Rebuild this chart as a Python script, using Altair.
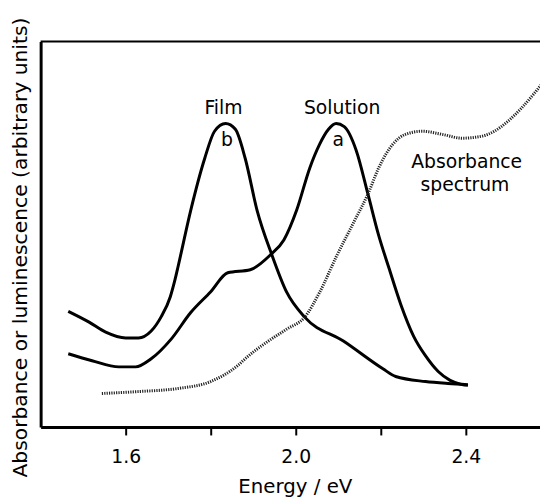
import altair as alt
import pandas as pd

# Film luminescence (curve b)
film_e = [1.465, 1.514, 1.553, 1.600, 1.630, 1.660, 1.684, 1.705, 1.716, 1.723, 1.753, 1.786,
          1.809, 1.835, 1.858, 1.881, 1.909, 1.944, 1.979, 2.021, 2.112, 2.205, 2.235, 2.305,
          2.358, 2.405]
film_v = [30.0, 27.2, 24.6, 23.1, 23.1, 24.9, 28.7, 33.8, 38.2, 41.5, 56.2, 69.7,
          76.7, 78.7, 77.2, 69.7, 56.2, 44.6, 34.9, 28.5, 22.3, 15.1, 13.1, 11.8,
          11.3, 11.0]

# Solution luminescence (curve a)
sol_e = [1.465, 1.521, 1.584, 1.623, 1.660, 1.707, 1.753, 1.800, 1.840, 1.893, 1.940, 1.972,
         2.002, 2.033, 2.056, 2.077, 2.095, 2.114, 2.142, 2.170, 2.195, 2.219, 2.247, 2.277,
         2.305, 2.335, 2.363, 2.391, 2.405]
sol_v = [19.0, 17.2, 15.6, 15.6, 17.7, 22.8, 29.7, 35.1, 40.0, 40.8, 44.6, 48.5,
         56.2, 67.2, 73.3, 77.2, 78.7, 77.9, 71.8, 60.3, 49.7, 41.3, 31.8, 23.6,
         18.5, 14.4, 12.1, 11.0, 10.8]

# Absorbance spectrum (dotted)
abs_e = [1.544, 1.630, 1.723, 1.800, 1.863, 1.886, 1.933, 1.979, 2.021, 2.056, 2.095, 2.135,
         2.170, 2.195, 2.228, 2.258, 2.298, 2.344, 2.391, 2.437, 2.467, 2.498, 2.530, 2.560,
         2.579]
abs_v = [8.7, 9.2, 10.0, 11.8, 15.9, 18.2, 22.1, 25.4, 28.5, 34.9, 44.1, 52.8,
         60.5, 67.2, 73.3, 75.9, 76.7, 75.9, 74.9, 75.4, 76.7, 79.2, 82.6, 86.4,
         89.0]

# Text annotations
lab_text = ["Film", "Solution", "b", "a", "Absorbance", "spectrum"]
lab_e = [1.830, 2.109, 1.838, 2.100, 2.402, 2.398]
lab_v = [81.3, 81.3, 72.8, 72.8, 67.2, 61.3]

tick_vals = [1.6, 1.8, 2.0, 2.2, 2.4]

W, H = 505, 390
FONT = "DejaVu Sans"

xscale = alt.Scale(domain=[1.4, 2.5744], nice=False, zero=False)
yscale = alt.Scale(domain=[0, 100], nice=False, zero=False)

xaxis = alt.Axis(
    values=tick_vals,
    labelExpr="abs(datum.value-1.8)<0.01 || abs(datum.value-2.2)<0.01 ? '' : format(datum.value, '.1f')",
    grid=False, tickSize=8, tickWidth=2, tickColor="black",
    domainWidth=3, domainColor="black",
    labelFont=FONT, labelFontSize=19, labelPadding=13, labelColor="black",
    title="Energy / eV", titleFont=FONT, titleFontSize=20, titleFontWeight="normal",
    titleColor="black", titleX=257, titleY=66, titleAlign="center", titleBaseline="alphabetic",
)
yaxis = alt.Axis(
    ticks=False, labels=False, grid=False, domainWidth=3, domainColor="black",
    title="Absorbance or luminescence (arbitrary units)", titleFont=FONT, titleFontSize=20.5,
    titleFontWeight="normal", titleColor="black", titleAngle=270, titleX=-14, titleY=208,
    titleAlign="center", titleBaseline="alphabetic",
)

x_enc = alt.X("e:Q", scale=xscale, axis=xaxis)
y_enc = alt.Y("v:Q", scale=yscale, axis=yaxis)

film_df = pd.DataFrame({"e": film_e, "v": film_v})
sol_df = pd.DataFrame({"e": sol_e, "v": sol_v})
abs_df = pd.DataFrame({"e": abs_e, "v": abs_v})
lab_df = pd.DataFrame({"e": lab_e, "v": lab_v, "t": lab_text})

film = alt.Chart(film_df).mark_line(color="black", strokeWidth=3, interpolate="monotone", clip=True).encode(x=x_enc, y=y_enc)
sol = alt.Chart(sol_df).mark_line(color="black", strokeWidth=3, interpolate="monotone", clip=True).encode(x=x_enc, y=y_enc)
absl = alt.Chart(abs_df).mark_line(color="#222222", strokeWidth=3, strokeDash=[1.2, 1.2],
                                   interpolate="monotone", clip=True).encode(x=x_enc, y=y_enc)
labels = alt.Chart(lab_df).mark_text(font=FONT, fontSize=19, color="black", align="center",
                                     baseline="alphabetic").encode(x=x_enc, y=y_enc, text="t:N")
top = alt.Chart(alt.Data(values=[{}])).mark_rule(color="black", strokeWidth=2).encode(
    x=alt.value(0), x2=alt.value(W), y=alt.value(0))

chart = alt.layer(film, sol, absl, labels, top).properties(
    width=W, height=H,
    padding={"left": 33, "top": 31, "right": 0, "bottom": 70},
    autosize=alt.AutoSizeParams(type="none"),
    background="white",
).configure_view(stroke=None)

chart.save("out.html", embed_options={"renderer": "svg", "actions": False})
